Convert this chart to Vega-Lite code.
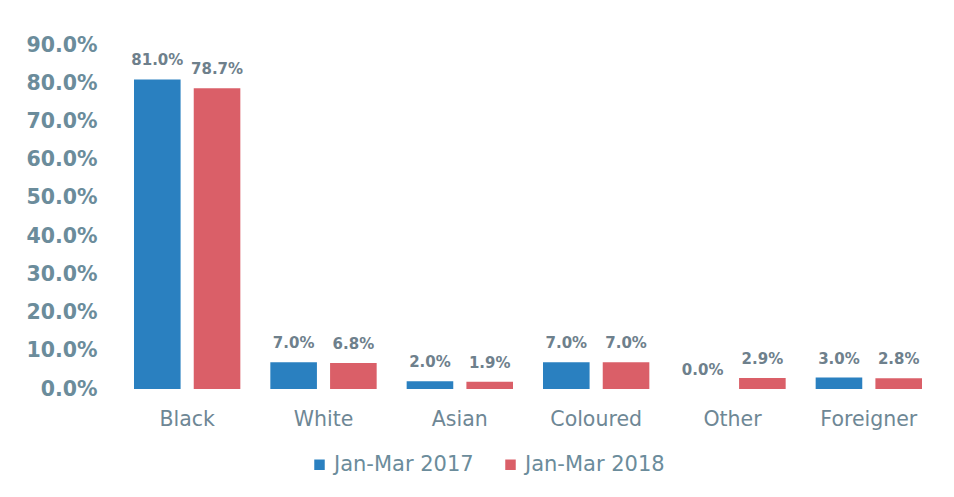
{
  "$schema": "https://vega.github.io/schema/vega-lite/v6.json",
  "autosize": "none",
  "width": 818,
  "height": 344,
  "padding": {"left": 119, "top": 45, "right": 17, "bottom": 108},
  "background": "white",
  "data": {
    "values": [
      {"group": "Black", "period": "Jan-Mar 2017", "value": 0.81},
      {"group": "Black", "period": "Jan-Mar 2018", "value": 0.787},
      {"group": "White", "period": "Jan-Mar 2017", "value": 0.07},
      {"group": "White", "period": "Jan-Mar 2018", "value": 0.068},
      {"group": "Asian", "period": "Jan-Mar 2017", "value": 0.02},
      {"group": "Asian", "period": "Jan-Mar 2018", "value": 0.019},
      {"group": "Coloured", "period": "Jan-Mar 2017", "value": 0.07},
      {"group": "Coloured", "period": "Jan-Mar 2018", "value": 0.07},
      {"group": "Other", "period": "Jan-Mar 2017", "value": 0.0},
      {"group": "Other", "period": "Jan-Mar 2018", "value": 0.029},
      {"group": "Foreigner", "period": "Jan-Mar 2017", "value": 0.03},
      {"group": "Foreigner", "period": "Jan-Mar 2018", "value": 0.028}
    ]
  },
  "encoding": {
    "x": {
      "field": "group",
      "type": "nominal",
      "sort": ["Black", "White", "Asian", "Coloured", "Other", "Foreigner"],
      "scale": {"paddingInner": 0.22, "paddingOuter": 0.11},
      "axis": {
        "title": null,
        "labelAngle": 0,
        "domain": false,
        "ticks": false,
        "labelPadding": 20,
        "labelFontSize": 20.5,
        "labelFont": "DejaVu Sans",
        "labelColor": "#6E8795"
      }
    },
    "xOffset": {"field": "period", "type": "nominal", "scale": {"paddingInner": 0.22}},
    "y": {
      "field": "value",
      "type": "quantitative",
      "scale": {"domain": [0, 0.9], "nice": false},
      "axis": {
        "title": null,
        "format": ".1%",
        "values": [0, 0.1, 0.2, 0.3, 0.4, 0.5, 0.6, 0.7, 0.8, 0.9],
        "domain": false,
        "ticks": false,
        "grid": false,
        "labelPadding": 22,
        "labelFontSize": 20.5,
        "labelFontWeight": "bold",
        "labelFont": "DejaVu Sans",
        "labelColor": "#6B8C9B"
      }
    }
  },
  "layer": [
    {
      "mark": {"type": "bar"},
      "encoding": {
        "color": {
          "field": "period",
          "type": "nominal",
          "scale": {"range": ["#2A80C0", "#DA5F68"]},
          "legend": {
            "title": null,
            "orient": "none",
            "direction": "horizontal",
            "legendX": 190,
            "legendY": 409,
            "symbolType": "square",
            "symbolSize": 110,
            "symbolStrokeWidth": 0,
            "labelFontSize": 21,
            "labelFont": "DejaVu Sans",
            "labelColor": "#6B8C9B",
            "columnPadding": 26,
            "labelOffset": 4
          }
        }
      }
    },
    {
      "mark": {
        "type": "text",
        "baseline": "bottom",
        "dy": -11,
        "fontSize": 15,
        "fontWeight": "bold",
        "font": "DejaVu Sans",
        "color": "#6E808C"
      },
      "encoding": {
        "text": {"field": "value", "type": "quantitative", "format": ".1%"}
      }
    }
  ],
  "config": {"view": {"stroke": null}}
}
